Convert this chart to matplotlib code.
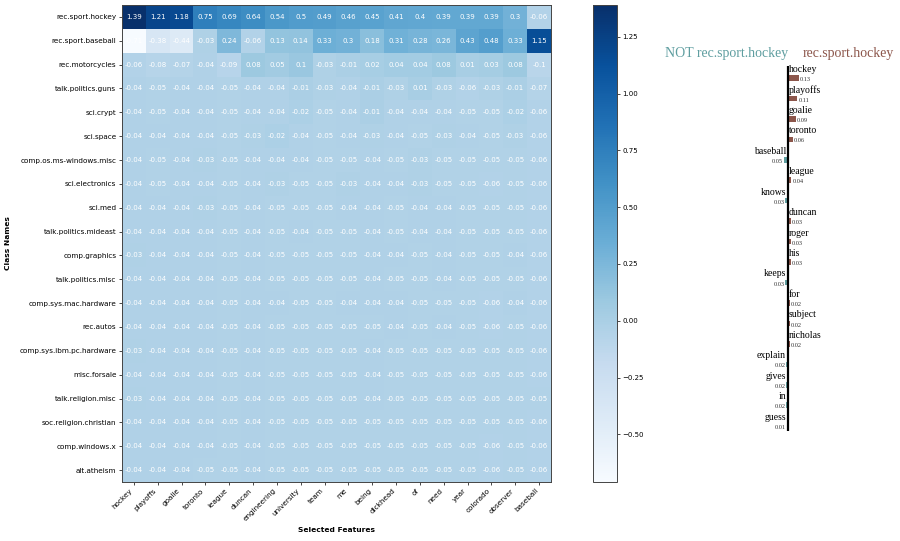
"""
Heatmap of per-class feature weights next to a LIME-style explanation panel.
"""

import matplotlib
matplotlib.use("Agg")
import matplotlib.pyplot as plt
import numpy as np

# ---------------------------------------------------------------------------
# Data
# ---------------------------------------------------------------------------

CLASS_NAMES = [
    "rec.sport.hockey", "rec.sport.baseball", "rec.motorcycles",
    "talk.politics.guns", "sci.crypt", "sci.space", "comp.os.ms-windows.misc",
    "sci.electronics", "sci.med", "talk.politics.mideast", "comp.graphics",
    "talk.politics.misc", "comp.sys.mac.hardware", "rec.autos",
    "comp.sys.ibm.pc.hardware", "misc.forsale", "talk.religion.misc",
    "soc.religion.christian", "comp.windows.x", "alt.atheism",
]

FEATURES = [
    "hockey", "playoffs", "goalie", "toronto", "league", "duncan",
    "engineering", "university", "team", "me", "being", "dickhead", "of",
    "need", "year", "colorado", "observer", "baseball",
]

WEIGHTS = [
    [1.39, 1.21, 1.18, 0.75, 0.69, 0.64, 0.54, 0.5, 0.49, 0.46, 0.45, 0.41, 0.4, 0.39, 0.39, 0.39, 0.3, -0.06],
    [-0.71, -0.38, -0.44, -0.03, 0.24, -0.06, 0.13, 0.14, 0.33, 0.3, 0.18, 0.31, 0.28, 0.26, 0.43, 0.48, 0.33, 1.15],
    [-0.06, -0.08, -0.07, -0.04, -0.09, 0.08, 0.05, 0.1, -0.03, -0.01, 0.02, 0.04, 0.04, 0.08, 0.01, 0.03, 0.08, -0.1],
    [-0.04, -0.05, -0.04, -0.04, -0.05, -0.04, -0.04, -0.01, -0.03, -0.04, -0.01, -0.03, 0.01, -0.03, -0.06, -0.03, -0.01, -0.07],
    [-0.04, -0.05, -0.04, -0.04, -0.05, -0.04, -0.04, -0.02, -0.05, -0.04, -0.01, -0.04, -0.04, -0.04, -0.05, -0.05, -0.02, -0.06],
    [-0.04, -0.04, -0.04, -0.04, -0.05, -0.03, -0.02, -0.04, -0.05, -0.04, -0.03, -0.04, -0.05, -0.03, -0.04, -0.05, -0.03, -0.06],
    [-0.04, -0.05, -0.04, -0.03, -0.05, -0.04, -0.04, -0.04, -0.05, -0.05, -0.04, -0.05, -0.03, -0.05, -0.05, -0.05, -0.05, -0.06],
    [-0.04, -0.05, -0.04, -0.04, -0.05, -0.04, -0.03, -0.05, -0.05, -0.03, -0.04, -0.04, -0.03, -0.05, -0.05, -0.06, -0.05, -0.06],
    [-0.04, -0.04, -0.04, -0.03, -0.05, -0.04, -0.05, -0.05, -0.05, -0.04, -0.04, -0.05, -0.04, -0.04, -0.05, -0.05, -0.05, -0.06],
    [-0.04, -0.04, -0.04, -0.04, -0.05, -0.04, -0.05, -0.04, -0.05, -0.05, -0.04, -0.05, -0.04, -0.04, -0.05, -0.05, -0.05, -0.06],
    [-0.03, -0.04, -0.04, -0.04, -0.05, -0.04, -0.05, -0.05, -0.05, -0.05, -0.04, -0.04, -0.05, -0.04, -0.05, -0.05, -0.04, -0.06],
    [-0.04, -0.04, -0.04, -0.04, -0.05, -0.04, -0.05, -0.05, -0.05, -0.05, -0.04, -0.05, -0.05, -0.04, -0.05, -0.05, -0.05, -0.06],
    [-0.04, -0.04, -0.04, -0.04, -0.05, -0.04, -0.04, -0.05, -0.05, -0.04, -0.04, -0.04, -0.05, -0.05, -0.05, -0.06, -0.04, -0.06],
    [-0.04, -0.04, -0.04, -0.04, -0.05, -0.04, -0.05, -0.05, -0.05, -0.05, -0.05, -0.04, -0.05, -0.04, -0.05, -0.06, -0.05, -0.06],
    [-0.03, -0.04, -0.04, -0.04, -0.05, -0.04, -0.05, -0.05, -0.05, -0.05, -0.04, -0.05, -0.05, -0.05, -0.05, -0.05, -0.05, -0.06],
    [-0.04, -0.04, -0.04, -0.04, -0.05, -0.04, -0.05, -0.05, -0.05, -0.05, -0.04, -0.05, -0.05, -0.05, -0.05, -0.05, -0.05, -0.06],
    [-0.03, -0.04, -0.04, -0.04, -0.05, -0.04, -0.05, -0.05, -0.05, -0.05, -0.04, -0.05, -0.05, -0.05, -0.05, -0.05, -0.05, -0.05],
    [-0.04, -0.04, -0.04, -0.04, -0.05, -0.04, -0.05, -0.05, -0.05, -0.05, -0.05, -0.05, -0.05, -0.05, -0.05, -0.05, -0.05, -0.06],
    [-0.04, -0.04, -0.04, -0.04, -0.05, -0.04, -0.05, -0.05, -0.05, -0.05, -0.05, -0.05, -0.05, -0.05, -0.05, -0.06, -0.05, -0.06],
    [-0.04, -0.04, -0.04, -0.05, -0.05, -0.04, -0.05, -0.05, -0.05, -0.05, -0.05, -0.05, -0.05, -0.05, -0.05, -0.06, -0.05, -0.06],
]

# LIME explanation for one document (signed: + supports hockey)
LIME_WORDS = [
    "hockey", "playoffs", "goalie", "toronto", "baseball", "league", "knows",
    "duncan", "roger", "his", "keeps", "for", "subject", "nicholas",
    "explain", "gives", "in", "guess",
]
LIME_WEIGHTS = [
    0.13, 0.11, 0.09, 0.06, -0.05, 0.04, -0.03, 0.03, 0.03, 0.03, -0.03,
    0.02, 0.02, 0.02, -0.02, -0.02, -0.02, -0.01,
]

POS_LABEL = "rec.sport.hockey"
NEG_LABEL = "NOT rec.sport.hockey"

POS_COLOR = "#8c564b"
NEG_COLOR = "#5f9ea0"

W_PX, H_PX = 900, 541


def fx(px):
    return px / W_PX


def fy(px):
    return 1 - px / H_PX


# ---------------------------------------------------------------------------
# Figure
# ---------------------------------------------------------------------------

fig = plt.figure(figsize=(9, 5.41), dpi=100)

# heatmap
ax = fig.add_axes([fx(122), fy(482), 429 / W_PX, 477 / H_PX])
data = np.array(WEIGHTS)
im = ax.imshow(data, cmap="Blues", aspect="auto")
for i in range(data.shape[0]):
    for j in range(data.shape[1]):
        ax.text(j, i, f"{data[i, j]:g}", ha="center", va="center",
                color="white", fontsize=5)

ax.set_xticks(range(len(FEATURES)))
ax.set_xticklabels(FEATURES, rotation=45, ha="right")
ax.set_yticks(range(len(CLASS_NAMES)))
ax.set_yticklabels(CLASS_NAMES)
ax.tick_params(labelsize=5.2, length=2, width=0.5, pad=2)
for sp in ax.spines.values():
    sp.set_linewidth(0.7)
    sp.set_color("#444444")

fig.text(fx(337), fy(530), "Selected Features", ha="center", va="center",
         fontsize=5.4, fontweight="bold")
fig.text(fx(8), fy(243), "Class Names", ha="center", va="center",
         rotation=90, fontsize=5.4, fontweight="bold")

# colorbar
cax = fig.add_axes([fx(593), fy(482), 24 / W_PX, 477 / H_PX])
cb = fig.colorbar(im, cax=cax)
cb.ax.tick_params(labelsize=5, length=2, width=0.5, pad=2)
cb.outline.set_linewidth(0.7)
cb.outline.set_edgecolor("#444444")

# LIME-style panel
PX_PER_UNIT = 85.0
ROW_PX = 20.45
ax2 = fig.add_axes([fx(700), fy(431), 180 / W_PX, 365 / H_PX])
rows = np.arange(len(LIME_WORDS))
vals = np.array(LIME_WEIGHTS)
colors = [POS_COLOR if v > 0 else NEG_COLOR for v in vals]
ax2.barh(rows, vals, height=0.27, color=colors)
ax2.axvline(0, color="black", lw=1.6)
ax2.set_xlim(-88 / PX_PER_UNIT, 92 / PX_PER_UNIT)
ax2.set_ylim((431 - 78) / ROW_PX, (66 - 78) / ROW_PX)
ax2.axis("off")

pad = 1.0 / PX_PER_UNIT
for r, word, v in zip(rows, LIME_WORDS, vals):
    if v > 0:
        ax2.text(pad, r - 0.42, word, ha="left", va="center",
                 fontsize=7, family="Liberation Serif")
        ax2.text(v + pad, r + 0.08, f"{abs(v):.2f}", ha="left", va="center",
                 fontsize=4.6, family="Liberation Serif", color="#333333")
    else:
        ax2.text(-2 * pad, r - 0.42, word, ha="right", va="center",
                 fontsize=7, family="Liberation Serif")
        ax2.text(v - pad, r + 0.08, f"{abs(v):.2f}", ha="right", va="center",
                 fontsize=4.6, family="Liberation Serif", color="#333333")

fig.text(fx(788), fy(53), NEG_LABEL, ha="right", va="center", fontsize=10,
         family="Liberation Serif", color=NEG_COLOR)
fig.text(fx(803), fy(53), POS_LABEL, ha="left", va="center", fontsize=10,
         family="Liberation Serif", color=POS_COLOR)

fig.savefig("out.png", dpi=100)
plt.close(fig)
